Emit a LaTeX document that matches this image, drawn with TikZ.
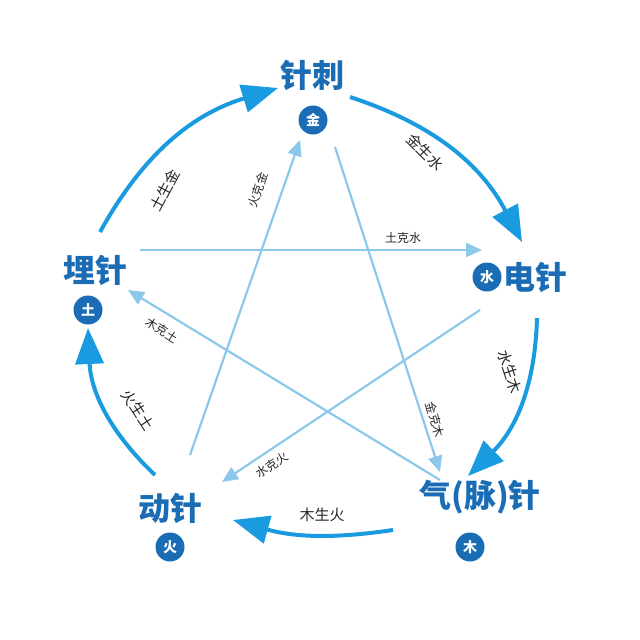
\documentclass[tikz,border=0pt]{standalone}
\usepackage{fontspec}
\setmainfont{Noto Sans CJK SC}
\usetikzlibrary{arrows.meta}
\definecolor{dk}{HTML}{1A6DB5}
\definecolor{oc}{HTML}{1A9BE0}
\definecolor{lc}{HTML}{8CC8EA}
\tikzset{
 title/.style={text=dk,font=\fontsize{32}{32}\selectfont\bfseries},
 badge/.style={circle,fill=dk,text=white,minimum size=29pt,inner sep=0pt,font=\fontsize{14}{14}\selectfont\bfseries},
 outer/.style={draw=oc,line width=4pt,-{Triangle[length=36pt,width=28pt]}},
 inner/.style={draw=lc,line width=2.2pt,-{Triangle[length=16pt,width=14pt]}},
 lab/.style={text=black!85,font=\fontsize{15}{15}\selectfont},
 slab/.style={text=black!85,font=\fontsize{12}{12}\selectfont},
}
\begin{document}
\begin{tikzpicture}[x=1pt,y=-1pt]
\useasboundingbox (0,0) rectangle (640,640);
\node[title] (zc) at (312,75) {针刺};
\node[badge] (jin) at (313,120) {金};
\node[title] (dz) at (535,277) {电针};
\node[badge] (shui) at (487,277) {水};
\node[title] (qz) at (480,497) {气(脉)针};
\node[badge] (mu) at (470,547) {木};
\node[title] (dong) at (170,508) {动针};
\node[badge] (huo) at (170,547) {火};
\node[title] (mai) at (95,270) {埋针};
\node[badge] (tu) at (88,310) {土};
% outer
\coordinate (a1) at (100,232); \coordinate (a2) at (278,88);
\coordinate (b1) at (350,97); \coordinate (b2) at (522,242);
\coordinate (c1) at (537,318); \coordinate (c2) at (468,476);
\coordinate (d1) at (393,530); \coordinate (d2) at (233,520);
\coordinate (e1) at (155,475); \coordinate (e2) at (88,328);
\draw[outer] (a1) to[bend left=22] (a2);
\draw[outer] (b1) to[bend left=22] (b2);
\draw[outer] (c1) to[bend left=22] (c2);
\draw[outer] (d1) to[bend left=12] (d2);
\draw[outer] (e1) to[bend left=22] (e2);
% inner
\coordinate (i1) at (140,250); \coordinate (i2) at (482,250);
\coordinate (j1) at (480,310); \coordinate (j2) at (222,482);
\coordinate (k1) at (190,455); \coordinate (k2) at (300,140);
\coordinate (l1) at (335,147); \coordinate (l2) at (440,472);
\coordinate (m1) at (440,480); \coordinate (m2) at (128,290);
\draw[inner] (i1) -- (i2);
\draw[inner] (j1) -- (j2);
\draw[inner] (k1) -- (k2);
\draw[inner] (l1) -- (l2);
\draw[inner] (m1) -- (m2);
% labels
\node[lab,rotate=62] at (165,190) {土生金};
\node[lab,rotate=-45] at (425,152) {金生水};
\node[lab,rotate=-72] at (510,372) {水生木};
\node[lab] at (322,515) {木生火};
\node[lab,rotate=-57] at (138,410) {火生土};
\node[slab,rotate=72] at (258,190) {火克金};
\node[slab] at (403,238) {土克水};
\node[slab,rotate=-75] at (435,420) {金克木};
\node[slab,rotate=34] at (272,465) {水克火};
\node[slab,rotate=-33] at (162,330) {木克土};
\end{tikzpicture}
\end{document}
